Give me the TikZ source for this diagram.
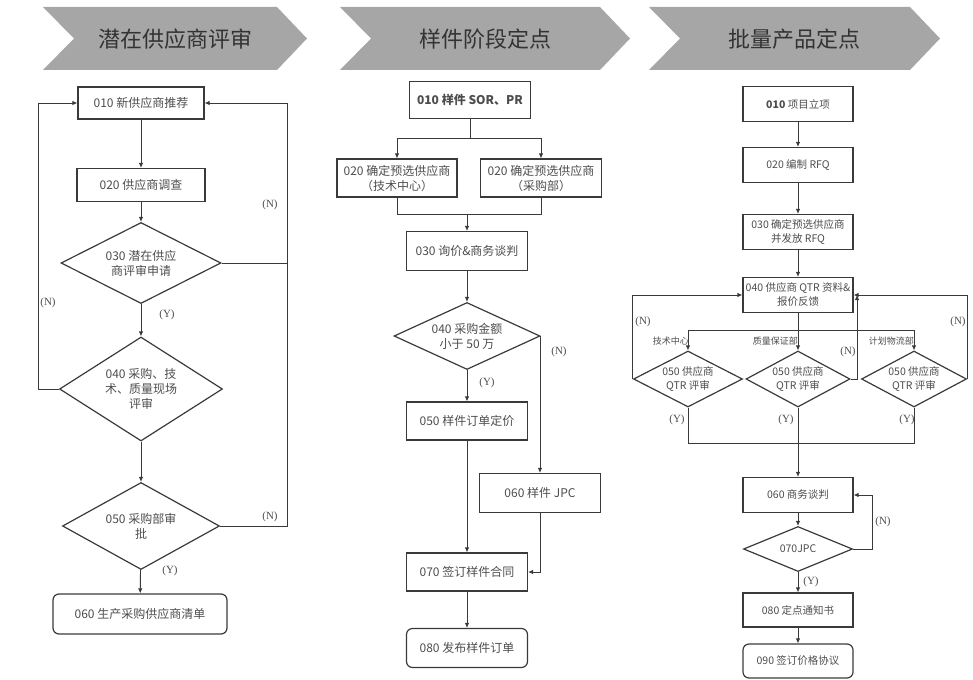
\documentclass[tikz,border=0pt]{standalone}
\usepackage{fontspec}
\setmainfont{Noto Sans CJK SC}
\newfontfamily\latinserif{Liberation Serif}
\usepackage{xcolor}
\usepackage{tikz}
\usetikzlibrary{shapes.geometric,arrows.meta,calc}
\definecolor{borde}{HTML}{3A3A3A}
\definecolor{texto}{HTML}{4D4D4D}
\definecolor{cinta}{HTML}{A6A6A6}

\begin{document}
\begin{tikzpicture}[
    x=1pt, y=-1pt,
    caja/.style={draw=borde, line width=1.2pt, align=center, inner sep=0pt, text=texto, minimum width=121, minimum height=38},
    final/.style={caja, rounded corners=6pt},
    rombo/.style={diamond, draw=borde, line width=1.2pt, align=center, inner sep=0pt, aspect=2, text=texto},
    grande/.style={font=\fontsize{12}{15}\selectfont},
    chico/.style={font=\fontsize{10.5}{14}\selectfont},
    flujo/.style={-{Latex[length=5pt,width=4.5pt]}, line width=0.9pt, draw=borde},
    linea/.style={line width=0.9pt, draw=borde},
    nota/.style={font=\latinserif\fontsize{11}{13}\selectfont, text=texto, inner sep=0pt},
    depto/.style={font=\fontsize{9}{11}\selectfont, text=texto, inner sep=0pt, anchor=east},
    titulo/.style={font=\fontsize{22}{26}\selectfont, text=black!80},
]
    \useasboundingbox (0,0) rectangle (973,679);
    % cintas de titulo
    \foreach \l/\r/\txt/\n in {43/307/潜在供应商评审/t1, 340/630/样件阶段定点/t2, 649/940/批量产品定点/t3} {
        \fill[cinta] (\l,7) -- (\r-30,7) -- (\r,38.5) -- (\r-30,70) -- (\l,70) -- (\l+31,38.5) -- cycle;
        \node[titulo] (\n) at ({(\l+\r)/2},39) {\txt};
    }

    % columna 1
    \node[caja, grande, minimum width=126, minimum height=32] (a010) at (141,103) {010 新供应商推荐};
    \node[caja, grande, minimum width=128, minimum height=33] (a020) at (141,185) {020 供应商调查};
    \node[rombo, grande, minimum width=160, minimum height=81] (a030) at (141,263) {030 潜在供应\\商评审申请};
    \node[rombo, grande, minimum width=163, minimum height=104] (a040) at (141,389) {040 采购、技\\术、质量现场\\评审};
    \node[rombo, grande, minimum width=157, minimum height=87] (a050) at (141,526) {050 采购部审\\批};
    \node[final, grande, minimum width=174, minimum height=40] (a060) at (140,614) {060 生产采购供应商清单};
    \coordinate (izqA) at (38,0);
    \coordinate (derA) at (287,0);
    \foreach \a/\b in {a010/a020,a020/a030,a030/a040,a040/a050,a050/a060} \draw[flujo] (\a) -- (\b);
    \draw[flujo] (a040.west) -- (a040.west -| izqA) |- (a010.west);
    \draw[flujo] (a050.east) -- (a050.east -| derA) |- (a010.east);
    \draw[linea] (a030.east) -- (a030.east -| derA);
    \node[nota] (na1) at (270,205) {(N)};
    \node[nota] (na2) at (48,303) {(N)};
    \node[nota] (ya1) at (167,315) {(Y)};
    \node[nota] (na3) at (270,517) {(N)};
    \node[nota] (ya2) at (170,571) {(Y)};

    % columna 2
    \node[caja, grande, minimum height=37] (b010) at (470,100) {\textbf{010 样件 SOR、PR}};
    \node[caja, grande, minimum width=120] (b020a) at (397,178) {020 确定预选供应商\\（技术中心）};
    \node[caja, grande] (b020b) at (541,178) {020 确定预选供应商\\（采购部）};
    \node[caja, grande, minimum height=39] (b030) at (467,251) {030 询价\&商务谈判};
    \node[rombo, grande, minimum width=146, minimum height=67] (b040) at (467,336) {040 采购金额\\小于 50 万};
    \node[caja, grande] (b050) at (467,421) {050 样件订单定价};
    \node[caja, grande, minimum height=39] (b060) at (540,493) {060 样件 JPC};
    \node[caja, grande] (b070) at (467,572) {070 签订样件合同};
    \node[final, grande, minimum height=39] (b080) at (467,648) {080 发布样件订单};
    \coordinate (bs) at (470,138);
    \coordinate (bm) at (467,214);
    \draw[linea] (b010) -- (bs);
    \draw[flujo] (bs) -| (b020a);
    \draw[flujo] (bs) -| (b020b);
    \draw[linea] (b020a) |- (bm);
    \draw[linea] (b020b) |- (bm);
    \draw[flujo] (bm) -- (b030);
    \foreach \a/\b in {b030/b040,b040/b050,b050/b070,b070/b080} \draw[flujo] (\a) -- (\b);
    \draw[flujo] (b040.east) -| (b060);
    \draw[flujo] (b060) |- (b070);
    \node[nota] (nb1) at (559,352) {(N)};
    \node[nota] (yb1) at (487,383) {(Y)};

    % columna 3
    \node[caja, chico, minimum width=110, minimum height=35] (c010) at (798,104) {\textbf{010} 项目立项};
    \node[caja, chico, minimum width=110, minimum height=35] (c020) at (798,165) {020 编制 RFQ};
    \node[caja, chico, minimum width=110, minimum height=35] (c030) at (798,232) {030 确定预选供应商\\并发放 RFQ};
    \node[caja, chico, minimum width=110, minimum height=35] (c040) at (798,295) {040 供应商 QTR 资料\&\\报价反馈};
    \node[rombo, chico, minimum width=109, minimum height=56] (q1) at (688,379) {050 供应商\\QTR 评审};
    \node[rombo, chico, minimum width=104, minimum height=56] (q2) at (798,379) {050 供应商\\QTR 评审};
    \node[rombo, chico, minimum width=105, minimum height=56] (q3) at (914,379) {050 供应商\\QTR 评审};
    \node[caja, chico, minimum width=110, minimum height=35] (c060) at (798,495) {060 商务谈判};
    \node[rombo, chico, minimum width=109, minimum height=45] (c070) at (798,549) {070JPC};
    \node[caja, chico, minimum width=110, minimum height=34] (c080) at (798,610) {080 定点通知书};
    \node[final, chico, minimum width=110, minimum height=34] (c090) at (798,661) {090 签订价格协议};
    \coordinate (cs) at (798,330);
    \coordinate (cm) at (798,443);
    \coordinate (cj) at (857,295);
    \foreach \a/\b in {c010/c020,c020/c030,c030/c040} \draw[flujo] (\a) -- (\b);
    \draw[linea] (c040) -- (cs);
    \foreach \q in {q1,q2,q3} \draw[flujo] (cs) -| (\q);
    \foreach \q in {q1,q2,q3} \draw[linea] (\q) |- (cm);
    \draw[flujo] (cm) -- (c060);
    \draw[flujo] (q1.west) |- (c040.west);
    \draw[flujo] (q2.east) -| (cj);
    \draw[flujo] (q3.east) |- (c040.east);
    \draw[flujo] (c060) -- (c070);
    \draw[flujo] (c070.east) -- ++(19,0) |- (c060.east);
    \draw[flujo] (c070) -- (c080);
    \draw[flujo] (c080) -- (c090);
    \node[depto] (d1) at (689,341) {技术中心};
    \node[depto] (d2) at (798,341) {质量保证部};
    \node[depto] (d3) at (914,341) {计划物流部};
    \node[nota] (nc1) at (643,322) {(N)};
    \node[nota] (nc2) at (958,322) {(N)};
    \node[nota] (nc3) at (848,352) {(N)};
    \node[nota] (yc1) at (677,420) {(Y)};
    \node[nota] (yc2) at (786,420) {(Y)};
    \node[nota] (yc3) at (907,420) {(Y)};
    \node[nota] (nc4) at (883,522) {(N)};
    \node[nota] (yc4) at (811,582) {(Y)};
\end{tikzpicture}
\end{document}
